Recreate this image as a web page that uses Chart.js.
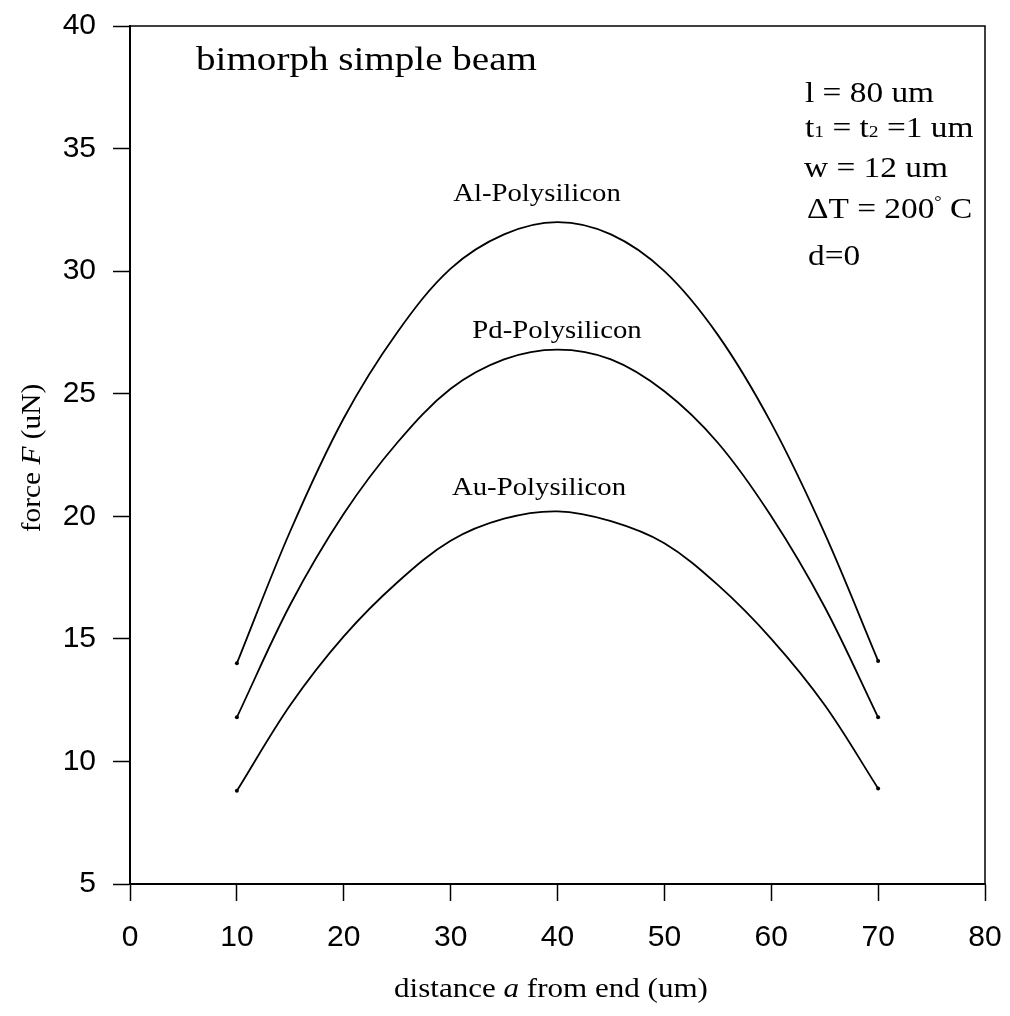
<!DOCTYPE html>
<html>
<head>
<meta charset="utf-8">
<script src="https://cdn.jsdelivr.net/npm/chart.js@4/dist/chart.umd.min.js"></script>
<style>
  html, body { margin: 0; padding: 0; background: #fff; }
  canvas { display: block; }
</style>
</head>
<body>
<canvas id="chart" width="1010" height="1016"></canvas>
<script>
// distance a from end (um)
const distances = [10, 15, 20, 25, 30, 35, 40, 45, 50, 55, 60, 65, 70];

// force F (uN)
const alForce = [14.0, 19.4, 24.0, 27.5, 30.1, 31.5, 32.0, 31.5, 30.0, 27.4, 23.8, 19.3, 14.1];
const pdForce = [11.8, 16.4, 20.1, 23.0, 25.2, 26.4, 26.8, 26.4, 25.1, 23.0, 20.0, 16.3, 11.8];
const auForce = [8.8, 12.3, 15.1, 17.3, 19.0, 19.9, 20.2, 19.8, 18.9, 17.2, 15.0, 12.3, 8.9];

const seriesNames = ["Al-Polysilicon", "Pd-Polysilicon", "Au-Polysilicon"];

const SANS = '"Liberation Sans", Arial, sans-serif';
const SX = 1.15; // serif text in the scan is a bit wide

function serif(size, italic) {
  return (italic ? "italic " : "") + size + 'px "Liberation Serif", "Times New Roman", serif';
}

function toPoints(values) {
  return values.map((v, i) => ({ x: distances[i], y: v }));
}

// little dots only at both ends of each curve
function endDots(ctx) {
  const n = ctx.dataset.data.length;
  return ctx.dataIndex === 0 || ctx.dataIndex === n - 1 ? 2 : 0;
}

function drawRuns(ctx, runs, x, y, align, sx) {
  let total = 0;
  runs.forEach((r) => {
    ctx.font = r.font;
    r.w = ctx.measureText(r.t).width * sx;
    total += r.w;
  });
  let cx = align === "center" ? x - total / 2 : x;
  runs.forEach((r) => {
    ctx.save();
    ctx.font = r.font;
    ctx.translate(cx, y + (r.dy || 0));
    ctx.scale(sx, 1);
    ctx.fillText(r.t, 0, 0);
    ctx.restore();
    cx += r.w;
  });
}

const framePlugin = {
  id: "frame",
  beforeDatasetsDraw(chart) {
    const { ctx, chartArea } = chart;
    ctx.save();
    ctx.strokeStyle = "#000";
    ctx.lineWidth = 1.5;
    ctx.beginPath();
    ctx.moveTo(chartArea.left, chartArea.top);
    ctx.lineTo(chartArea.right, chartArea.top);
    ctx.lineTo(chartArea.right, chartArea.bottom);
    ctx.stroke();
    ctx.restore();
  },
};

const textPlugin = {
  id: "texts",
  afterDraw(chart) {
    const ctx = chart.ctx;
    ctx.save();
    ctx.fillStyle = "#000";
    ctx.textBaseline = "alphabetic";
    ctx.textAlign = "left";

    drawRuns(ctx, [{ t: "bimorph simple beam", font: serif(34) }], 196, 70, "left", SX);

    drawRuns(ctx, [{ t: seriesNames[0], font: serif(25) }], 537, 201, "center", SX);
    drawRuns(ctx, [{ t: seriesNames[1], font: serif(25) }], 557, 338, "center", SX);
    drawRuns(ctx, [{ t: seriesNames[2], font: serif(25) }], 539, 495, "center", SX);

    // parameter block
    drawRuns(ctx, [{ t: "l = 80 um", font: serif(29) }], 805, 102, "left", SX);
    drawRuns(ctx, [
      { t: "t", font: serif(29) },
      { t: "1", font: serif(17) },
      { t: " = t", font: serif(29) },
      { t: "2", font: serif(17) },
      { t: " =1 um", font: serif(29) },
    ], 805, 137, "left", SX);
    drawRuns(ctx, [{ t: "w = 12 um", font: serif(29) }], 804, 177, "left", SX);
    drawRuns(ctx, [
      { t: "\u0394T = 200", font: serif(29) },
      { t: "\u00b0", font: serif(16), dy: -11 },
      { t: " C", font: serif(29) },
    ], 807, 218, "left", SX);
    drawRuns(ctx, [{ t: "d=0", font: serif(29) }], 808, 265, "left", SX);

    // axis titles
    drawRuns(ctx, [
      { t: "distance ", font: serif(27) },
      { t: "a", font: serif(27, true) },
      { t: " from end (um)", font: serif(27) },
    ], 551, 997, "center", SX);

    ctx.save();
    ctx.translate(40, 458);
    ctx.rotate(-Math.PI / 2);
    drawRuns(ctx, [
      { t: "force ", font: serif(28) },
      { t: "F", font: serif(28, true) },
      { t: " (uN)", font: serif(28) },
    ], 0, 0, "center", 1.05);
    ctx.restore();

    ctx.restore();
  },
};

function lineSet(label, values) {
  return {
    label,
    data: toPoints(values),
    borderColor: "#000",
    backgroundColor: "#000",
    borderWidth: 1.8,
    tension: 0.35,
    fill: false,
    pointRadius: endDots,
    pointHoverRadius: 0,
    pointBorderWidth: 0,
  };
}

const ctx = document.getElementById("chart").getContext("2d");
const chart = new Chart(ctx, {
  type: "line",
  data: {
    datasets: [
      lineSet(seriesNames[0], alForce),
      lineSet(seriesNames[1], pdForce),
      lineSet(seriesNames[2], auForce),
    ],
  },
  options: {
    responsive: false,
    animation: false,
    devicePixelRatio: 1,
    layout: { padding: { top: 26, right: 25, left: 0, bottom: 0 } },
    plugins: {
      legend: { display: false },
      tooltip: { enabled: false },
    },
    scales: {
      x: {
        type: "linear",
        min: 0,
        max: 80,
        ticks: {
          stepSize: 10,
          color: "#000",
          font: { family: SANS, size: 30 },
          padding: 19,
          maxRotation: 0,
        },
        grid: {
          drawOnChartArea: false,
          drawTicks: true,
          tickLength: 17,
          tickColor: "#000",
          tickWidth: 1.5,
        },
        border: { display: true, color: "#000", width: 2 },
        afterFit(scale) {
          scale.height = 132;
          scale.paddingLeft = 0;
          scale.paddingRight = 0;
        },
      },
      y: {
        min: 5,
        max: 40,
        ticks: {
          stepSize: 5,
          color: "#000",
          font: { family: SANS, size: 30 },
          padding: 17,
        },
        grid: {
          drawOnChartArea: false,
          drawTicks: true,
          tickLength: 17,
          tickColor: "#000",
          tickWidth: 1.5,
        },
        border: { display: true, color: "#000", width: 2 },
        afterFit(scale) {
          scale.width = 130;
          scale.paddingTop = 0;
          scale.paddingBottom = 0;
        },
      },
    },
  },
  plugins: [framePlugin, textPlugin],
});
</script>
</body>
</html>
